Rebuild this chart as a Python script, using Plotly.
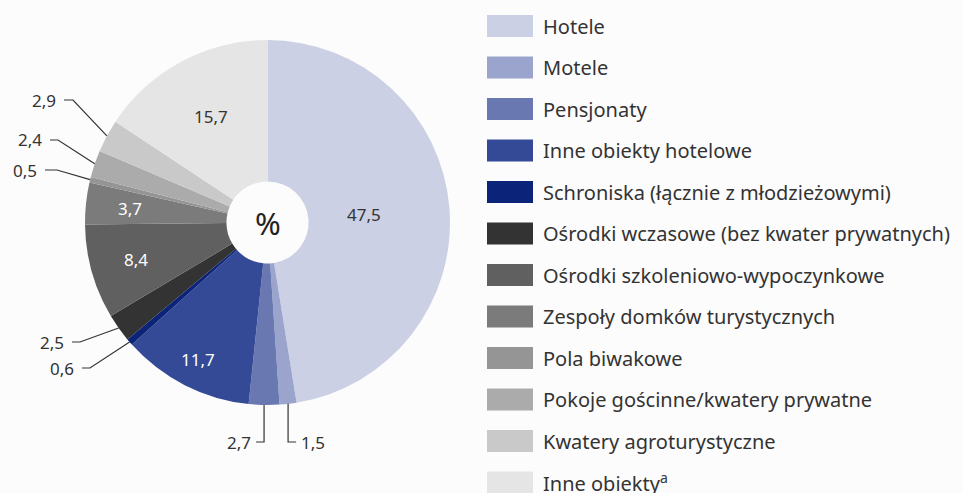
import math
import plotly.graph_objects as go

labels = ["Hotele", "Motele", "Pensjonaty", "Inne obiekty hotelowe",
          "Schroniska (łącznie z młodzieżowymi)",
          "Ośrodki wczasowe (bez kwater prywatnych)",
          "Ośrodki szkoleniowo-wypoczynkowe",
          "Zespoły domków turystycznych", "Pola biwakowe",
          "Pokoje gościnne/kwatery prywatne",
          "Kwatery agroturystyczne", "Inne obiekty<sup>a</sup>"]
values = [47.5, 1.5, 2.7, 11.7, 0.6, 2.5, 8.4, 3.7, 0.5, 2.4, 2.9, 15.7]
value_text = ["47,5", "1,5", "2,7", "11,7", "0,6", "2,5", "8,4", "3,7", "0,5", "2,4", "2,9", "15,7"]
colors = ["#cbd0e4", "#9aa4cc", "#6a78b2", "#344a96", "#0b2479", "#333333",
          "#606060", "#7b7b7b", "#959595", "#ababab", "#c9c9c9", "#e5e5e5"]

W, H = 963, 493
CX, CY, R = 267.5, 222.5, 182.5
HOLE = 0.225

def px(x):
    return x / W

def py(y):
    return 1 - y / H

fig = go.Figure(go.Pie(
    labels=labels, values=values, sort=False, direction="clockwise", rotation=0,
    hole=HOLE, marker=dict(colors=colors, line=dict(width=0)),
    textinfo="none", hoverinfo="label+value", showlegend=False,
    domain=dict(x=[px(CX - R), px(CX + R)], y=[py(CY + R), py(CY - R)]),
))

total = sum(values)
cum = 0
mids = []
for v in values:
    mids.append((cum + v / 2) / total * 2 * math.pi)
    cum += v

def pt(i, frac):
    a = mids[i]
    return CX + R * frac * math.sin(a), CY - R * frac * math.cos(a)

annotations = []
shapes = []
font = "Noto Sans"
TXT = "#333333"

def ann(x, y, text, size, color, xanchor="center"):
    annotations.append(dict(x=px(x), y=py(y), xref="paper", yref="paper",
                            xanchor=xanchor, yanchor="middle", text=text,
                            showarrow=False,
                            font=dict(family=font, size=size, color=color)))

# inside labels: index -> (radius fraction, colour)
inside = {0: (0.53, TXT), 11: (0.66, TXT), 7: (0.755, "#ffffff"),
          6: (0.75, "#ffffff"), 3: (0.84, "#ffffff")}
for i, (f, c) in inside.items():
    x, y = pt(i, f)
    ann(x, y, value_text[i], 17, c)

# outside labels on the left: index -> (text right edge x, y, elbow x)
left = {10: (58, 100, 73), 9: (44, 140, 58), 8: (39, 170, 57),
        5: (66, 342, 80), 4: (76, 368, 90)}
for i, (tx, ty, ex) in left.items():
    sx, sy = pt(i, 1.0)
    path = f"M {px(tx + 6)},{py(ty)} L {px(ex)},{py(ty)} L {px(sx)},{py(sy)}"
    shapes.append(dict(type="path", xref="paper", yref="paper", path=path,
                       line=dict(color=TXT, width=1.2)))
    ann(tx, ty, value_text[i], 17, TXT, "right")

# outside labels at the bottom: index -> (y, horizontal direction)
bottom = {2: (442, -1), 1: (442, 1)}
for i, (ty, d) in bottom.items():
    sx, sy = pt(i, 1.0)
    path = f"M {px(sx)},{py(sy)} L {px(sx)},{py(ty)} L {px(sx + d * 8)},{py(ty)}"
    shapes.append(dict(type="path", xref="paper", yref="paper", path=path,
                       line=dict(color=TXT, width=1.2)))
    ann(sx + d * 11, ty, value_text[i], 17, TXT, "left" if d > 0 else "right")

# centre symbol
ann(CX, CY, "%", 31, "#222222")

# legend
for k, (lab, col) in enumerate(zip(labels, colors)):
    yc = 26 + k * 41.5
    shapes.append(dict(type="rect", xref="paper", yref="paper",
                       x0=px(487), x1=px(533), y0=py(yc + 11), y1=py(yc - 11),
                       fillcolor=col, line=dict(width=0)))
    ann(541, yc, lab, 20, TXT, "left")

fig.update_layout(width=W, height=H, margin=dict(l=0, r=0, t=0, b=0),
                  paper_bgcolor="#fcfcfc", plot_bgcolor="#fcfcfc",
                  annotations=annotations, shapes=shapes)
fig.write_html("out.html", config={"displayModeBar": False},
               post_script="document.body.style.margin='0';document.body.style.overflow='hidden';")
